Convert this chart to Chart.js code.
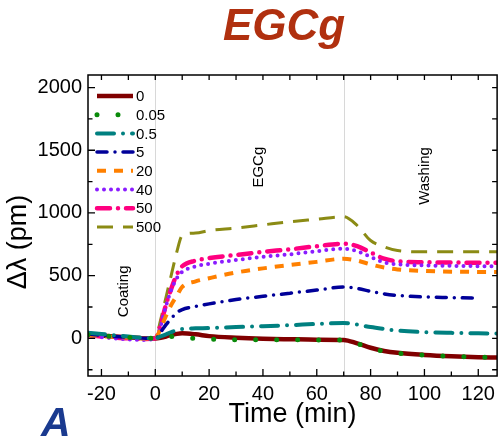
<!DOCTYPE html>
<html>
<head>
<meta charset="utf-8">
<style>
  html, body { margin: 0; padding: 0; background: #fff; }
  #wrap { position: relative; width: 501px; height: 444px; }
  canvas { display: block; }
</style>
<script src="https://cdn.jsdelivr.net/npm/chart.js@4.4.1/dist/chart.umd.min.js"></script>
</head>
<body>
<div id="wrap"><canvas id="c" width="501" height="444"></canvas></div>
<script>
// ---- data ----
const times = [-25, -20, -15, -10, -5, 0, 2, 4, 6, 8, 10, 15, 20, 30, 40, 50, 60, 70, 75, 80, 85, 90, 100, 110, 120, 127];
const seriesNames = ['0', '0.05', '0.5', '5', '20', '40', '50', '500'];
const s0    = [30, 22, 15, 8, 2, 0, 5, 15, 28, 36, 40, 32, 18, 5, -3, -7, -10, -12, -40, -75, -100, -115, -132, -143, -150, -153];
const s005  = [28, 20, 14, 7, 2, 0, 3, 8, 15, 15, 10, 0, -5, -10, -10, -10, -12, -14, -42, -78, -102, -117, -133, -143, -149, -152];
const s05   = [45, 35, 25, 15, 5, 0, 15, 32, 50, 65, 75, 80, 82, 90, 97, 105, 115, 122, 110, 90, 75, 62, 50, 44, 40, 38];
const s5    = [35, 25, 15, 8, 2, 0, 50, 110, 160, 205, 230, 255, 275, 310, 335, 360, 385, 410, 398, 375, 355, 342, 330, 325, 320, null];
const s20   = [25, 18, 12, 6, 0, 0, 80, 180, 270, 340, 410, 455, 480, 525, 558, 585, 610, 635, 620, 590, 565, 550, 538, 532, 530, 530];
const s40   = [20, 10, 0, -8, -12, -5, 100, 260, 390, 480, 530, 575, 595, 625, 650, 670, 695, 715, 695, 650, 605, 590, 582, 578, 576, 576];
const s50   = [25, 15, 5, 0, -5, 0, 110, 270, 400, 510, 575, 620, 640, 665, 690, 710, 735, 755, 735, 685, 635, 615, 607, 605, 603, 603];
const s500  = [30, 22, 15, 8, 2, 0, 150, 330, 510, 690, 820, 840, 860, 880, 905, 930, 950, 970, 900, 780, 730, 700, 690, 690, 690, 690];
const xTicks = [-20, 0, 20, 40, 60, 80, 100, 120];
const yTicks = [0, 500, 1000, 1500, 2000];
const phaseLines = [0, 70];
const phaseLabels = ['Coating', 'EGCg', 'Washing'];

// ---- styles ----
const styles = [
  { color: '#800000', width: 4.5, dash: [], cap: 'butt', order: 1 },
  { color: '#0a8a0a', width: 5, dash: [0, 21], cap: 'round', order: 0 },
  { color: '#008080', width: 4, dash: [17, 9, 0, 9], cap: 'round', order: 0 },
  { color: '#000099', width: 3.5, dash: [10, 8, 0, 8], cap: 'round', order: 0 },
  { color: '#ff8000', width: 4, dash: [9, 8], cap: 'butt', order: 0 },
  { color: '#8a1cff', width: 4, dash: [0, 7], cap: 'round', order: 0 },
  { color: '#ff0080', width: 4.5, dash: [13, 8, 0, 8], cap: 'round', order: 0 },
  { color: '#8b8b14', width: 3, dash: [16, 10], cap: 'butt', order: 0 }
];
const allSeries = [s0, s005, s05, s5, s20, s40, s50, s500];

const datasets = allSeries.map((vals, i) => ({
  label: seriesNames[i],
  data: times.map((t, k) => ({ x: t, y: vals[k] })),
  borderColor: styles[i].color,
  backgroundColor: styles[i].color,
  borderWidth: styles[i].width,
  borderDash: styles[i].dash,
  borderCapStyle: styles[i].cap,
  pointRadius: 0,
  tension: 0.25,
  cubicInterpolationMode: 'monotone',
  spanGaps: false,
  order: styles[i].order,
  fill: false
}));

const FONT = '"Liberation Sans", Arial, sans-serif';

const decor = {
  id: 'decor',
  beforeDatasetsDraw(chart) {
    const { ctx, chartArea: a, scales: { x, y } } = chart;
    ctx.save();
    ctx.strokeStyle = '#d8d8d8';
    ctx.lineWidth = 1;
    phaseLines.forEach(v => {
      const px = Math.round(x.getPixelForValue(v)) + 0.5;
      ctx.beginPath(); ctx.moveTo(px, a.top); ctx.lineTo(px, a.bottom); ctx.stroke();
    });
    // phase labels
    ctx.fillStyle = '#000';
    ctx.font = '15px ' + FONT;
    ctx.textAlign = 'center';
    ctx.textBaseline = 'middle';
    const pos = [[-11.5, 375], [38.5, 1365], [100, 1295]];
    pos.forEach((p, i) => {
      ctx.save();
      ctx.translate(x.getPixelForValue(p[0]), y.getPixelForValue(p[1]));
      ctx.rotate(-Math.PI / 2);
      ctx.fillText(phaseLabels[i], 0, 0);
      ctx.restore();
    });
    ctx.restore();
  },
  afterDraw(chart) {
    const { ctx, chartArea: a, scales: { x, y } } = chart;
    ctx.save();
    // frame
    ctx.strokeStyle = '#000';
    ctx.lineWidth = 1.5;
    ctx.strokeRect(a.left, a.top, a.right - a.left, a.bottom - a.top);
    ctx.lineWidth = 1.3;
    // x ticks (bottom & top), every 10
    for (let v = -20; v <= 120; v += 10) {
      const px = x.getPixelForValue(v);
      const major = v % 20 === 0;
      ctx.beginPath();
      ctx.moveTo(px, a.bottom); ctx.lineTo(px, a.bottom - (major ? 7 : 4.5));
      ctx.moveTo(px, a.top); ctx.lineTo(px, a.top + 5);
      ctx.stroke();
    }
    // y ticks (left & right), every 250
    for (let v = -250; v <= 2000; v += 250) {
      const py = y.getPixelForValue(v);
      const major = v % 500 === 0;
      ctx.beginPath();
      ctx.moveTo(a.left, py); ctx.lineTo(a.left + (major ? 7 : 4.5), py);
      ctx.moveTo(a.right, py); ctx.lineTo(a.right - 5, py);
      ctx.stroke();
    }
    // legend
    const lx0 = a.left + 9, lx1 = a.left + 45, tx = a.left + 48;
    ctx.font = '15px ' + FONT;
    ctx.textAlign = 'left';
    ctx.textBaseline = 'middle';
    datasets.forEach((d, i) => {
      const ly = a.top + 21 + i * 18.7;
      ctx.save();
      ctx.strokeStyle = d.borderColor;
      ctx.lineWidth = d.borderWidth;
      ctx.setLineDash(d.borderDash);
      ctx.lineCap = d.borderCapStyle;
      ctx.beginPath(); ctx.moveTo(lx0, ly); ctx.lineTo(lx1, ly); ctx.stroke();
      ctx.restore();
      ctx.fillStyle = '#000';
      ctx.fillText(d.label, tx, ly + 1);
    });
    // y axis title
    ctx.save();
    ctx.fillStyle = '#000';
    ctx.font = '27px ' + FONT;
    ctx.textAlign = 'center';
    ctx.textBaseline = 'middle';
    ctx.translate(19, 242);
    ctx.rotate(-Math.PI / 2);
    ctx.fillText('Δλ (pm)', 0, 0);
    ctx.restore();
    // chart title
    ctx.fillStyle = '#b0300f';
    ctx.font = 'italic bold 44px ' + FONT;
    ctx.textAlign = 'center';
    ctx.textBaseline = 'alphabetic';
    ctx.fillText('EGCg', 284, 40);
    // panel letter
    ctx.fillStyle = '#1a3a8f';
    ctx.font = 'italic bold 41px ' + FONT;
    ctx.textAlign = 'left';
    ctx.fillText('A', 41, 436);
    ctx.restore();
  }
};

new Chart(document.getElementById('c'), {
  type: 'line',
  data: { datasets },
  options: {
    responsive: false,
    animation: false,
    layout: { padding: { top: 75, right: 1, left: 0, bottom: 0 } },
    plugins: { legend: { display: false }, tooltip: { enabled: false }, title: { display: false } },
    scales: {
      x: {
        type: 'linear', min: -25, max: 127,
        afterBuildTicks: s => { s.ticks = xTicks.map(v => ({ value: v })); },
        afterFit: s => { s.height = 68; },
        grid: { display: false, drawTicks: false },
        border: { display: false },
        ticks: { color: '#000', font: { family: FONT, size: 20 }, padding: 6, maxRotation: 0, autoSkip: false, callback: v => String(v) },
        title: { display: true, text: 'Time (min)', color: '#000', font: { family: FONT, size: 27 }, padding: { top: 0, bottom: 13 } }
      },
      y: {
        type: 'linear', min: -300, max: 2100,
        afterBuildTicks: s => { s.ticks = yTicks.map(v => ({ value: v })); },
        afterFit: s => { s.width = 88; },
        grid: { display: false, drawTicks: false },
        border: { display: false },
        ticks: { color: '#000', font: { family: FONT, size: 20 }, padding: 6, autoSkip: false, callback: v => String(v) },
        title: { display: false }
      }
    }
  },
  plugins: [decor]
});
</script>
</body>
</html>
